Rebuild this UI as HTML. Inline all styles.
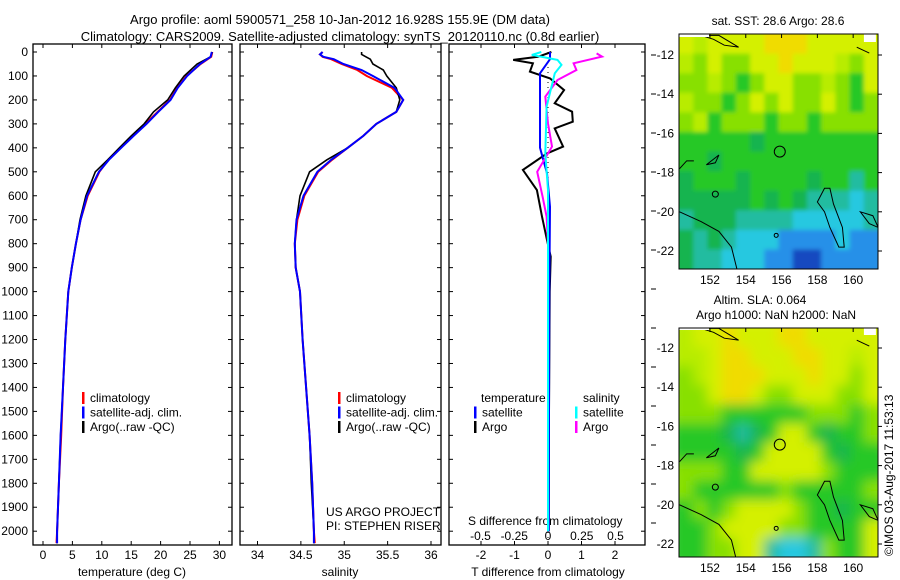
<!DOCTYPE html>
<html><head><meta charset="utf-8"><style>
body{margin:0;background:#fff;width:900px;height:580px;overflow:hidden}
svg{display:block;font-family:"Liberation Sans",sans-serif}
text{font-size:12px;fill:#000}
</style></head><body>
<svg id="chart" width="900" height="580" viewBox="0 0 900 580">
<defs>
<clipPath id="cp1"><rect x="33" y="44" width="199" height="501"/></clipPath>
<clipPath id="cp2"><rect x="240" y="44" width="201" height="501"/></clipPath>
<clipPath id="cp3"><rect x="449" y="44" width="196" height="501"/></clipPath>
<clipPath id="cm1"><rect x="679" y="34" width="199" height="235"/></clipPath>
<clipPath id="cm2"><rect x="679" y="328" width="199" height="229"/></clipPath>
<filter id="blur" x="-5%" y="-5%" width="110%" height="110%"><feGaussianBlur stdDeviation="6"/></filter>
<filter id="blur1" x="-5%" y="-5%" width="110%" height="110%"><feGaussianBlur stdDeviation="2"/></filter>
</defs>
<text x="340" y="24" text-anchor="middle" style="font-size:13px">Argo profile: aoml 5900571_258 10-Jan-2012 16.928S 155.9E (DM data)</text>
<text x="340" y="41" text-anchor="middle" style="font-size:13px">Climatology: CARS2009. Satellite-adjusted climatology: synTS_20120110.nc (0.8d earlier)</text>
<g id="plots"></g>
<g id="maps"></g>
<text transform="translate(893,556) rotate(-90)" style="font-size:12px">©IMOS 03-Aug-2017 11:53:13</text>
</svg>
<script>
// ---------- profile data ----------
const depthT = [0,20,50,100,150,200,250,300,350,400,450,500,600,700,800,900,1000,1200,1400,1600,1800,2000,2050];
const argoT  = [28.8,28.5,26.2,24.0,22.5,21.2,18.8,17.2,15.0,13.0,11.0,8.9,7.3,6.3,5.6,4.9,4.3,3.8,3.4,3.0,2.7,2.4,2.4];
const climT  = [28.8,28.6,26.8,24.4,22.8,21.6,19.5,17.4,15.3,13.2,11.1,9.6,7.6,6.4,5.6,4.9,4.3,3.8,3.4,3.1,2.7,2.4,2.3];
const satT   = [28.7,28.5,26.7,24.5,22.9,21.7,19.6,17.6,15.4,13.3,11.2,9.5,7.5,6.4,5.6,4.9,4.3,3.8,3.4,3.0,2.7,2.4,2.4];
const depthS = [0,10,20,30,50,75,100,150,200,250,300,350,400,450,500,600,700,800,900,1000,1200,1400,1600,1800,2000,2050];
const argoS  = [35.2,35.2,35.25,35.3,35.33,35.45,35.49,35.6,35.64,35.6,35.37,35.22,35.04,34.8,34.6,34.49,34.45,34.43,34.44,34.49,34.52,34.56,34.6,34.62,34.65,34.65];
const climS  = [34.75,34.72,34.75,34.85,34.97,35.15,35.26,35.55,35.68,35.6,35.37,35.22,35.04,34.86,34.7,34.54,34.46,34.43,34.44,34.49,34.52,34.56,34.6,34.63,34.65,34.66];
const satS   = [34.75,34.72,34.76,34.88,34.99,35.2,35.33,35.58,35.68,35.6,35.37,35.22,35.04,34.85,34.69,34.53,34.45,34.43,34.44,34.49,34.52,34.56,34.6,34.63,34.65,34.65];
const argoTdiffDepth = [0,20,33,47,82,110,159,214,249,291,319,395,423,492,576,687,785,854,1000,1500,2000];
const argoTdiff      = [0.1,-0.3,-1.04,-0.45,-0.54,0.06,0.48,0.2,0.72,0.74,0.2,0.45,-0.03,-0.75,-0.33,-0.18,-0.03,0.08,0.05,0.03,0.02];
const satTdiffDepth  = [0,30,89,200,400,506,646,1000,2000];
const satTdiff       = [0.06,0.06,-0.24,-0.24,-0.24,-0.03,0.06,0.04,0.02];
const argoSdiffDepth = [6,19,47,75,117,186,298,395,500,604,687,800,2000];
const argoSdiff      = [0.36,0.4,0.19,0.21,0.07,-0.02,0,0.03,-0.08,-0.04,-0.01,0,0];
const satSdiffDepth  = [0,12,33,54,89,228,423,576,2000];
const satSdiff       = [-0.05,-0.12,0.07,0.1,0.05,-0.01,-0.02,0,0];
const depthTicks = [0,100,200,300,400,500,600,700,800,900,1000,1100,1200,1300,1400,1500,1600,1700,1800,1900,2000];
const tempTicks = [0,5,10,15,20,25,30];
const salTicks = [34,34.5,35,35.5,36];
const salTickLabels = ["34","34.5","35","35.5","36"];
const tdiffTicks = [-2,-1,0,1,2];
const sdiffTicks = [-0.5,-0.25,0,0.25,0.5];
const sdiffTickLabels = ["-0.5","-0.25","0","0.25","0.5"];

const NS='http://www.w3.org/2000/svg';
function mk(tag,attrs,parent){const e=document.createElementNS(NS,tag);for(const k in attrs)e.setAttribute(k,attrs[k]);parent.appendChild(e);return e;}
const yD = d => 52 + d*0.2396;
const xT = t => 43 + t*5.88;
const xS = s => 257.5 + (s-34)*86.75;
const xTd = v => 548 + v*33.5;
const xSd = v => 548 + v*135;
const G = document.getElementById('plots');

function panel(x,w,name){
  const r=mk('rect',{x:x,y:44,width:w,height:501,fill:'none',stroke:'#000','stroke-width':1.3},G);
  
  
}
panel(33,199,'temperature-panel');panel(240,201,'salinity-panel');panel(449,196,'difference-panel');

depthTicks.forEach(d=>{
  const y=yD(d);
  const t=mk('text',{x:28,y:y+4,'text-anchor':'end'},G);t.textContent=d;
  
  
  [[33,37],[228,232],[240,244],[437,441],[449,453],[641,645]].forEach(p=>mk('line',{x1:p[0],x2:p[1],y1:y,y2:y,stroke:'#000'},G));
});
for(let k=0;k<13;k++){const y=55+39*k;if(y<545)mk('line',{x1:651,x2:656,y1:y,y2:y,stroke:'#000'},G);}

function xticks(vals,labels,fx,y0,ly,name){
  vals.forEach((v,i)=>{const x=fx(v);
    mk('line',{x1:x,x2:x,y1:545,y2:541,stroke:'#000'},G);mk('line',{x1:x,x2:x,y1:44,y2:48,stroke:'#000'},G);
    const t=mk('text',{x:x,y:ly,'text-anchor':'middle'},G);t.textContent=labels?labels[i]:v;
    
    });
}
xticks(tempTicks,null,xT,0,559,'temperature-tick-label');
xticks(salTicks,salTickLabels,xS,0,559,'salinity-tick-label');
xticks(tdiffTicks,null,xTd,0,559,'t-diff-tick-label');
sdiffTicks.forEach((v,i)=>{const t=mk('text',{x:xSd(v),y:540,'text-anchor':'middle'},G);t.textContent=sdiffTickLabels[i];
  
  });

function label(x,y,s,name,anchor){const t=mk('text',{x:x,y:y,'text-anchor':anchor||'start'},G);t.textContent=s;
  
  return t;}
label(132,576,'temperature (deg C)','temperature-axis-title','middle');
label(340,576,'salinity','salinity-axis-title','middle');
label(548,576,'T difference from climatology','t-diff-axis-title','middle');
label(468,525,'S difference from climatology','s-diff-axis-title');
label(326,516,'US ARGO PROJECT','project-label');
label(326,530,'PI: STEPHEN RISER','pi-label');

function line(xs,ds,fx,color,clip,name,w){
  const pts=xs.map((v,i)=>fx(v).toFixed(1)+','+yD(ds[i]).toFixed(1)).join(' ');
  const p=mk('polyline',{points:pts,fill:'none',stroke:color,'stroke-width':w||2,'clip-path':'url(#'+clip+')'},G);
  
  
}
line(climT,depthT,xT,'#f00','cp1','temp-climatology-line');
line(argoT,depthT,xT,'#000','cp1','temp-argo-line',1.6);
line(satT,depthT,xT,'#00f','cp1','temp-satellite-line');
line(climS,depthS,xS,'#f00','cp2','sal-climatology-line');
line(argoS,depthS,xS,'#000','cp2','sal-argo-line',1.6);
line(satS,depthS,xS,'#00f','cp2','sal-satellite-line');
mk('line',{x1:548,x2:548,y1:52,y2:545,stroke:'#000','stroke-dasharray':'1 4'},G);
line(argoTdiff,argoTdiffDepth,xTd,'#000','cp3','t-diff-argo-line');
line(satTdiff,satTdiffDepth,xTd,'#00f','cp3','t-diff-satellite-line');
line(argoSdiff,argoSdiffDepth,xSd,'#f0f','cp3','s-diff-argo-line');
line(satSdiff,satSdiffDepth,xSd,'#0ff','cp3','s-diff-satellite-line');

function legendItem(x,y,color,s,name){mk('rect',{x:x,y:y-10,width:2.5,height:12,fill:color},G);label(x+8,y,s,name);}
[[82,'climatology','#f00'],[82,'satellite-adj. clim.','#00f'],[82,'Argo(..raw -QC)','#000']].forEach((e,i)=>legendItem(e[0],402+i*14.5,e[2],e[1],'legend-entry'));
[[338,'climatology','#f00'],[338,'satellite-adj. clim.','#00f'],[338,'Argo(..raw -QC)','#000']].forEach((e,i)=>legendItem(e[0],402+i*14.5,e[2],e[1],'legend-entry'));
label(481,402,'temperature','legend-temperature-heading');label(583,402,'salinity','legend-salinity-heading');
legendItem(474,416.5,'#00f','satellite','legend-entry');legendItem(474,431,'#000','Argo','legend-entry');
legendItem(575,416.5,'#0ff','satellite','legend-entry');legendItem(575,431,'#f0f','Argo','legend-entry');

// ---------- maps ----------
const sstGrid = ["YyYYYYOOOYYYYY","yLYLLYYOYYYyLY","LLyLGLYYLLyLGY","yLLGLYLYLLYLGL","LyGLLLGLLGLLLL","GGGGGgGGGGGGGG","GGgGGGGGGGGGGG","gGGGgGGGGgGGTG","gggggGgGgTTTCT","TgggTTTTCCCCCT","gTgTCCCBBBBCBB","gTTCCCBBDDBBBB"];
const slaGrid = ["yYYOYYYOOYYYYY","yyYOOYYYOOYYyY","LyYOOOYYYOYYLY","LLYOOYLLYYYLLY","LLLGGGGGGLLLGL","GGGgTgGYYGgGGL","GGGGgGYYYYGgGG","LLLGGYYYYYLGGG","LGGGGGGLGGGGGL","GLGLYYYYLGGgGG","GGLYYYYLLGGGGY","GGLLYYTCCTLGGY"];
const colorOf = {Y:'#d4f000',y:'#b8ec00',L:'#88e000',G:'#28c828',g:'#18b450',T:'#20bca0',C:'#28c8e0',B:'#2890e8',D:'#1848c0',O:'#f0dc00'};
const lonTicks=[152,154,156,158,160];
const latTicks=[-12,-14,-16,-18,-20,-22];
const M=document.getElementById('maps');
function drawMap(y0,h,grid,clip,blur,name,top){
  const x0=679,w=199;
  const gg=mk('g',{'clip-path':'url(#'+clip+')'},M);
  const inner=mk('g',{filter:blur?'url(#blur)':'url(#blur1)'},gg);
  const rows=grid.length,cols=grid[0].length,cw=w/cols,ch=h/rows;
  mk('rect',{x:x0-10,y:y0-10,width:w+20,height:h+20,fill:colorOf[grid[rows-1][0]]},inner);
  grid.forEach((row,r)=>{for(let c=0;c<cols;c++){
    mk('rect',{x:x0+c*cw-(c==0?10:0),y:y0+r*ch-(r==0?10:0),width:cw+0.6+(c==0||c==cols-1?10:0),height:ch+0.6+(r==0||r==rows-1?10:0),fill:colorOf[row[c]]},inner);}});
  const lonX=l=>x0+(l-150.27)*17.9, latY=l=>top+(-12-l)*19.6;
  const cl={fill:'none',stroke:'#000','stroke-width':1};
  mk('path',Object.assign({d:`M${lonX(150.3)} ${latY(-20)} L${lonX(151.5)} ${latY(-20.5)} L${lonX(152.5)} ${latY(-21)} L${lonX(153.2)} ${latY(-21.8)} L${lonX(153.5)} ${latY(-22.9)}`},cl),gg);
  mk('path',Object.assign({d:`M${lonX(158.4)} ${latY(-18.8)} L${lonX(158.7)} ${latY(-18.8)} L${lonX(158.9)} ${latY(-19.6)} L${lonX(159.4)} ${latY(-20.8)} L${lonX(159.5)} ${latY(-21.8)} L${lonX(159.2)} ${latY(-21.8)} L${lonX(158.7)} ${latY(-20.8)} L${lonX(158.4)} ${latY(-20)} L${lonX(158)} ${latY(-19.5)} Z`},cl),gg);
  mk('path',Object.assign({d:`M${lonX(160.4)} ${latY(-20)} L${lonX(161.1)} ${latY(-20.2)} L${lonX(161.4)} ${latY(-20.8)} L${lonX(160.9)} ${latY(-20.6)} Z`},cl),gg);
  mk('path',Object.assign({d:`M${lonX(151.8)} ${latY(-17.6)} L${lonX(152.5)} ${latY(-17.1)} L${lonX(152.3)} ${latY(-17.5)} Z`},cl),gg);
  mk('path',Object.assign({d:`M${lonX(150.3)} ${latY(-17.8)} L${lonX(150.7)} ${latY(-17.4)} L${lonX(151.1)} ${latY(-17.4)}`},cl),gg);
  mk('path',Object.assign({d:`M${lonX(151.5)} ${latY(-11)} L${lonX(152.5)} ${latY(-11)} L${lonX(153.6)} ${latY(-11.6)} L${lonX(152.8)} ${latY(-11.5)} L${lonX(152.2)} ${latY(-11.2)} Z`,fill:'none',stroke:'#000'}),gg);
  mk('rect',{x:x0,y:top-21,width:30,height:3,fill:'#fff'},gg);
  mk('rect',{x:lonX(160.6),y:top-21,width:12,height:8,fill:'#fff'},gg);
  mk('path',Object.assign({d:`M${lonX(160.2)} ${latY(-11.6)} L${lonX(160.9)} ${latY(-11.9)}`},cl),gg);
  mk('circle',{cx:lonX(152.3),cy:latY(-19.1),r:3,fill:'none',stroke:'#000'},gg);
  mk('circle',{cx:lonX(155.7),cy:latY(-21.2),r:2,fill:'none',stroke:'#000'},gg);
  const mark=mk('circle',{cx:lonX(155.9),cy:latY(-16.93),r:5.5,fill:'none',stroke:'#000','stroke-width':1},gg);
  
  
  const fr=mk('rect',{x:x0,y:y0,width:w,height:h,fill:'none',stroke:'#000'},M);
  
  
  lonTicks.forEach(l=>{const x=lonX(l);mk('line',{x1:x,x2:x,y1:y0,y2:y0+4,stroke:'#000'},M);
    const t=mk('text',{x:x,y:y0+h+15,'text-anchor':'middle'},M);t.textContent=l;
    
    });
  latTicks.forEach(l=>{const y=latY(l);mk('line',{x1:x0+w,x2:x0+w+4,y1:y,y2:y,stroke:'#000'},M);
    const t=mk('text',{x:x0-5,y:y+4,'text-anchor':'end'},M);t.textContent=l;
    
    });
}
drawMap(34,235,sstGrid,'cm1',false,'sst-map',55);
drawMap(328,229,slaGrid,'cm2',true,'sla-map',348);
function mt(x,y,s,name){const t=mk('text',{x:x,y:y,'text-anchor':'middle'},M);t.textContent=s;
  
  }
mt(778,25,'sat. SST: 28.6 Argo: 28.6','sst-map-title');
mt(760,304,'Altim. SLA: 0.064','sla-map-title');
mt(776,319,'Argo h1000: NaN h2000: NaN','sla-map-subtitle');
</script>
</body></html>
